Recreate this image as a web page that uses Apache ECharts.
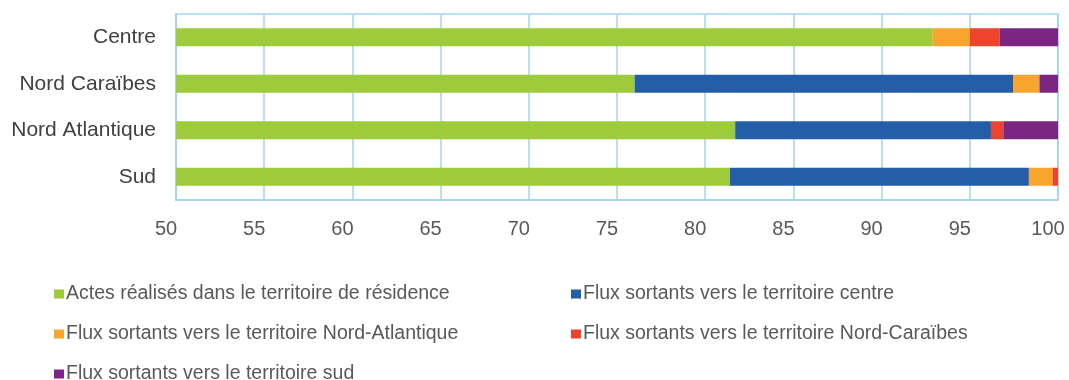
<!DOCTYPE html>
<html>
<head>
<meta charset="utf-8">
<script src="https://cdn.jsdelivr.net/npm/echarts@6/dist/echarts.min.js"></script>
<style>
  html, body { margin: 0; padding: 0; background: #fff; }
  #chart { width: 1069px; height: 380px; }
</style>
</head>
<body>
<div id="chart"></div>
<script>
// territoires (top to bottom)
const territoires = ['Centre', 'Nord Caraïbes', 'Nord Atlantique', 'Sud'];

// parts des actes (%) par destination
const residence = [92.9, 76.0, 81.7, 81.4];
const versCentre = [0, 21.45, 14.5, 16.95];
const versNordAtlantique = [2.1, 1.5, 0, 1.35];
const versNordCaraibes = [1.7, 0, 0.7, 0.3];
const versSud = [3.3, 1.05, 3.1, 0];

const seriesNames = [
  'Actes réalisés dans le territoire de résidence',
  'Flux sortants vers le territoire centre',
  'Flux sortants vers le territoire Nord-Atlantique',
  'Flux sortants vers le territoire Nord-Caraïbes',
  'Flux sortants vers le territoire sud'
];
const seriesData = [residence, versCentre, versNordAtlantique, versNordCaraibes, versSud];
const colors = ['#9dcb3c', '#255ea8', '#f7a52d', '#ee432c', '#7b2682'];

const FONT = '"Liberation Sans", Arial, sans-serif';
const GRID_BLUE = '#a3d3f2';

// legend laid out as two columns, one legend box per entry
const legendSlots = [
  { left: 54, top: 284 },
  { left: 571, top: 284 },
  { left: 54, top: 324 },
  { left: 571, top: 324 },
  { left: 54, top: 364 }
];
const legends = seriesNames.map((name, i) => ({
  left: legendSlots[i].left,
  top: legendSlots[i].top,
  data: [name],
  icon: 'rect',
  itemWidth: 10,
  itemHeight: 9,
  padding: 0,
  textStyle: { fontFamily: FONT, fontSize: 19.5, color: '#595959', padding: [0, 0, 0, -3] }
}));

const chart = echarts.init(document.getElementById('chart'), null, { renderer: 'canvas' });

chart.setOption({
  animation: false,
  color: colors,
  grid: {
    left: 176, right: 11, top: 14, bottom: 180,
    outerBoundsMode: 'none',
    show: true, borderColor: GRID_BLUE, borderWidth: 1.5
  },
  legend: legends,
  xAxis: {
    type: 'value',
    min: 50,
    max: 100,
    interval: 5,
    axisLine: { show: true, lineStyle: { color: GRID_BLUE, width: 1.5 } },
    axisTick: { show: false },
    splitLine: { show: true, lineStyle: { color: GRID_BLUE, width: 1.5 } },
    // labels sit a little left of their gridline, as in the source
    axisLabel: { fontFamily: FONT, fontSize: 20, color: '#595959', margin: 19, padding: [0, 20, 0, 0] }
  },
  yAxis: {
    type: 'category',
    data: territoires,
    inverse: true,
    axisLine: { show: true, lineStyle: { color: GRID_BLUE, width: 1.5 } },
    axisTick: { show: false },
    axisLabel: { fontFamily: FONT, fontSize: 21, color: '#404040', margin: 20 }
  },
  series: seriesNames.map((name, i) => ({
    name: name,
    type: 'bar',
    stack: 'total',
    barWidth: 18,
    data: seriesData[i]
  }))
});
</script>
</body>
</html>
